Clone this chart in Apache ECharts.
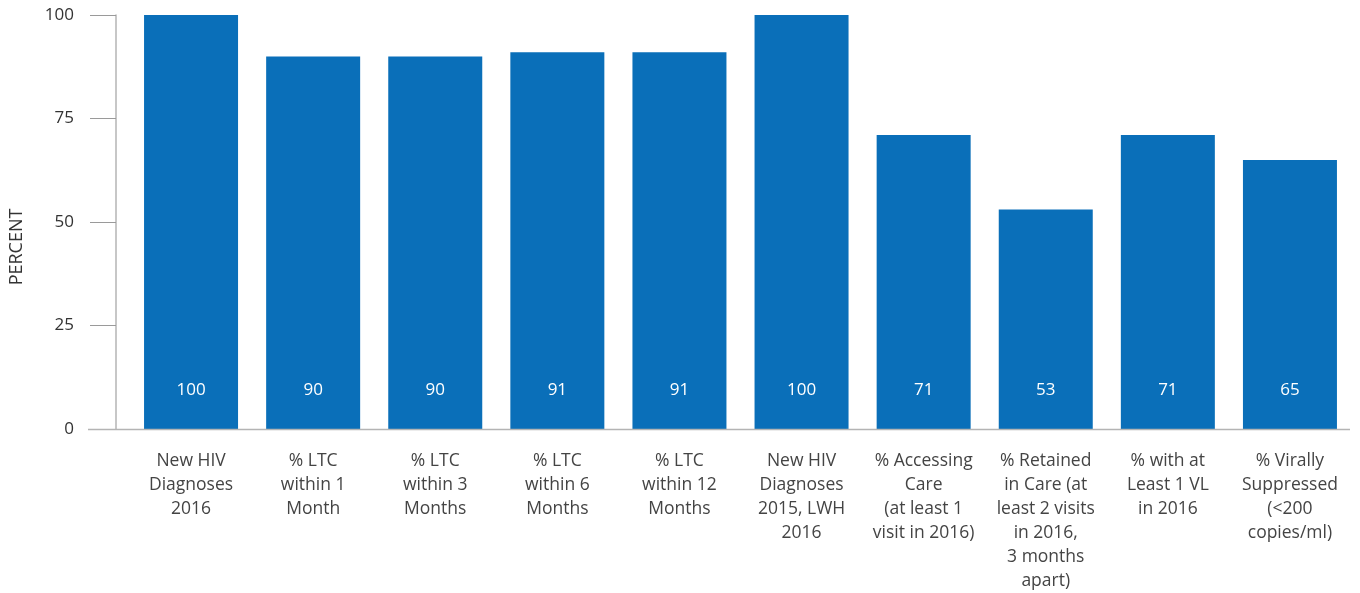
<!DOCTYPE html>
<html>
<head>
<meta charset="utf-8">
<script src="https://cdn.jsdelivr.net/npm/echarts@6/dist/echarts.min.js"></script>
<style>
  html, body { margin: 0; padding: 0; background: #fff; }
  #chart { width: 1360px; height: 593px; }
</style>
</head>
<body>
<div id="chart"></div>
<script>
// Care continuum stages and the percentage reached at each stage
const categories = [
  'New HIV\nDiagnoses\n2016',
  '% LTC\nwithin 1\nMonth',
  '% LTC\nwithin 3\nMonths',
  '% LTC\nwithin 6\nMonths',
  '% LTC\nwithin 12\nMonths',
  'New HIV\nDiagnoses\n2015, LWH\n2016',
  '% Accessing\nCare\n(at least 1\nvisit in 2016)',
  '% Retained\nin Care (at\nleast 2 visits\nin 2016,\n3 months\napart)',
  '% with at\nLeast 1 VL\nin 2016',
  '% Virally\nSuppressed\n(<200\ncopies/ml)'
];
const percentValues = [100, 90, 90, 91, 91, 100, 71, 53, 71, 65];
const yTicks = [0, 25, 50, 75, 100];

const FONT = '"Open Sans", Lato, sans-serif';
const BAR_COLOR = '#0A6FB9';
const AXIS_COLOR = '#B4B4B4';

const chart = echarts.init(document.getElementById('chart'));

const option = {
  animation: false,
  backgroundColor: '#ffffff',
  grid: { left: 129, right: 9, top: 15, bottom: 161, containLabel: false },
  xAxis: {
    type: 'category',
    data: categories,
    axisLine: { show: false },
    axisTick: { show: false },
    axisLabel: {
      interval: 0,
      margin: 20,
      color: '#444444',
      fontFamily: FONT,
      fontSize: 17.5,
      lineHeight: 24,
      align: 'center'
    }
  },
  yAxis: {
    type: 'value',
    min: yTicks[0],
    max: yTicks[yTicks.length - 1],
    interval: 25,
    offset: 14,
    name: 'PERCENT',
    nameLocation: 'middle',
    nameGap: 90,
    nameRotate: 90,
    nameTextStyle: {
      color: '#333333',
      fontFamily: FONT,
      fontSize: 18,
      padding: [0, 50, 0, 0]
    },
    axisLine: { show: true, lineStyle: { color: AXIS_COLOR, width: 1.5 } },
    axisTick: { show: true, inside: false, length: 26, lineStyle: { color: '#9a9a9a', width: 1 } },
    axisLabel: {
      margin: 42,
      color: '#333333',
      fontFamily: FONT,
      fontSize: 17
    },
    splitLine: { show: false }
  },
  series: [{
    type: 'bar',
    data: percentValues,
    barWidth: 94,
    itemStyle: { color: BAR_COLOR },
    label: {
      show: true,
      position: 'insideBottom',
      distance: 30,
      color: '#ffffff',
      fontFamily: FONT,
      fontSize: 17
    }
  }]
};

chart.setOption(option);

// Baseline drawn across the full width, starting left of the value axis
const zeroPt = chart.convertToPixel({ gridIndex: 0 }, [0, 0]);
const y0 = Math.round(zeroPt[1]) + 0.5;
chart.setOption({
  graphic: [{
    type: 'line',
    shape: { x1: 88, y1: y0, x2: 1350, y2: y0 },
    style: { stroke: AXIS_COLOR, lineWidth: 1.5 },
    z: 10
  }]
});
</script>
</body>
</html>
